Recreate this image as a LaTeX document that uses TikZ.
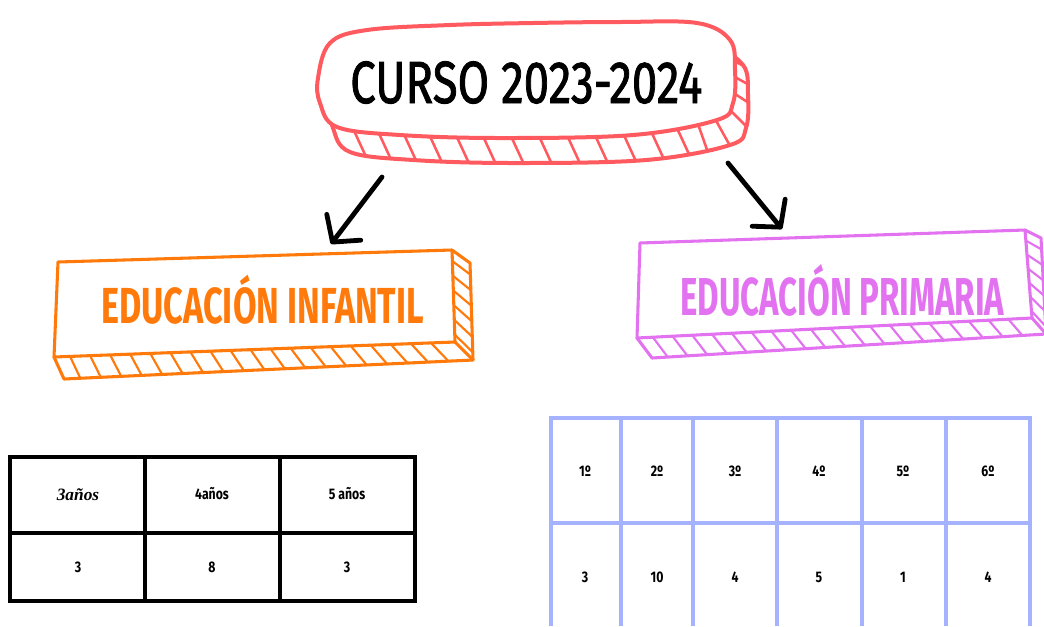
\documentclass[tikz,border=0pt]{standalone}
\usepackage{fontspec}
\usetikzlibrary{arrows.meta,calc}
\newfontfamily\fira{Fira Sans}
\newfontfamily\firamed{Fira Sans}[FakeBold=1.6]
\newfontfamily\serifit{Liberation Serif}
\definecolor{cred}{HTML}{FF5A5F}
\definecolor{corange}{HTML}{FF7A0A}
\definecolor{cpink}{HTML}{E272F0}
\definecolor{cblue}{HTML}{A4B2FF}
\begin{document}
\begin{tikzpicture}[x=0.75pt,y=-0.75pt,
  redline/.style={draw=cred,line width=3pt,line join=round,line cap=round},
  redhatch/.style={draw=cred,line width=1.9pt,line cap=round},
  obox/.style={draw=corange,line width=2.3pt,line join=round,line cap=round},
  ohatch/.style={draw=corange,line width=1.6pt,line cap=round},
  pbox/.style={draw=cpink,line width=2.3pt,line join=round,line cap=round},
  phatch/.style={draw=cpink,line width=1.6pt,line cap=round},
  arr/.style={line width=3.6pt,line cap=round,-{Straight Barb[length=14pt,width=32pt,round]}},
  title/.style={anchor=base west,inner sep=0pt},
  cell/.style={inner sep=0pt,font=\fira\bfseries\fontsize{11.5}{13}\selectfont},
  blacktab/.style={draw=black,line width=2.3pt},
  bluetab/.style={draw=cblue,line width=2.4pt}]
\useasboundingbox (0,0) rectangle (1044,626);
\fill[white] (0,0) rectangle (1044,626);

% ---------- CURSO blob ----------
\def\blob{plot[smooth cycle,tension=0.6] coordinates {(318,78) (330,43) (367,30) (450,25) (533,23) (620,22) (697,23) (730,40) (735,70) (733,103) (717,120) (633,135) (500,138) (400,135) (337,127) (320,103)}}
\fill[white,shift={(13,25)}] \blob;
\begin{scope}
  \clip[shift={(13,25)}] \blob;
  \foreach \px/\py in {350/122,376/127,402/130,428/132,455/133,482/134,510/134,538/134,566/133,594/133,622/131,650/129,676/126}
    \draw[redhatch] (\px,\py) -- ++(24,52);
  \foreach \px/\py/\dx/\dy in {728/45/2/1, 732/60/2/1, 733/76/2/1.1, 732/92/2/1.3, 726/106/1.6/1.6, 714/117/1/1.8, 698/124/0.7/2}
    \draw[redhatch] (\px,\py) -- ++({30*\dx},{30*\dy});
\end{scope}
\draw[redline,shift={(13,25)}] \blob;
\filldraw[redline,fill=white] \blob;
\node[title,font=\firamed\fontsize{44.6}{50}\selectfont] (curso) at (350,103) {\resizebox{264pt}{\height}{CURSO 2023-2024}};

% ---------- arrows ----------
\coordinate (a1s) at (382,177);
\coordinate (a1e) at (331,244);
\coordinate (a2s) at (728,163);
\coordinate (a2e) at (782,229);
\draw[arr] (a1s) -- (a1e);
\draw[arr] (a2s) -- (a2e);

% ---------- EDUCACION INFANTIL box ----------
\coordinate (iFTL) at (58,262);
\coordinate (iFTR) at (452,250);
\coordinate (iFBR) at (455,342);
\coordinate (iFBL) at (54,357);
\coordinate (iBTR) at (470,263);
\coordinate (iBBR) at (473,360);
\coordinate (iBBL) at (64,379);
\foreach \t in {0.04,0.09,...,0.97}
  \draw[ohatch] ($(iFBL)!\t!(iFBR)$) -- ($(iBBL)!\t!(iBBR)$);
\foreach \t in {0.12,0.28,0.44,0.60,0.76,0.92}
  \draw[ohatch] ($(iFTR)!\t!(iFBR)$) -- ($(iBTR)!\t!(iBBR)$);
\draw[obox] (iFTR) -- (iBTR) -- (iBBR) -- (iBBL) -- (iFBL);
\draw[obox] (iFBR) -- (iBBR);
\draw[obox] (iFTL) -- (iFTR) -- (iFBR) -- (iFBL) -- cycle;
\node[title,text=corange,font=\fira\bfseries\fontsize{38}{42}\selectfont] (infantil) at (101,323) {\resizebox{242pt}{\height}{EDUCACIÓN INFANTIL}};

% ---------- EDUCACION PRIMARIA box ----------
\coordinate (pFTL) at (640,243);
\coordinate (pFTR) at (1025,230);
\coordinate (pFBR) at (1032,318);
\coordinate (pFBL) at (637,338);
\coordinate (pBTR) at (1041,238);
\coordinate (pBBR) at (1046,334);
\coordinate (pBBL) at (652,358);
\foreach \t in {0.04,0.09,...,0.97}
  \draw[phatch] ($(pFBL)!\t!(pFBR)$) -- ($(pBBL)!\t!(pBBR)$);
\foreach \t in {0.12,0.28,0.44,0.60,0.76,0.92}
  \draw[phatch] ($(pFTR)!\t!(pFBR)$) -- ($(pBTR)!\t!(pBBR)$);
\draw[pbox] (pFTR) -- (pBTR) -- (pBBR) -- (pBBL) -- (pFBL);
\draw[pbox] (pFBR) -- (pBBR);
\draw[pbox] (pFTL) -- (pFTR) -- (pFBR) -- (pFBL) -- cycle;
\node[title,text=cpink,font=\fira\bfseries\fontsize{40}{44}\selectfont] (primaria) at (680,315) {\resizebox{243pt}{\height}{EDUCACIÓN PRIMARIA}};

% ---------- left table ----------
\draw[blacktab] (10,457) rectangle (415,601);
\draw[blacktab] (10,533) -- (415,533);
\draw[blacktab] (145,457) -- (145,601);
\draw[blacktab] (280,457) -- (280,601);
\node[inner sep=0pt,font=\serifit\bfseries\itshape\fontsize{13}{14}\selectfont] (c1) at (78,495) {3años};
\node[cell] (c2) at (212,494) {\scalebox{0.8}[1]{4años}};
\node[cell] (c3) at (347,494) {\scalebox{0.8}[1]{5 años}};
\node[cell] (d1) at (78,567) {\scalebox{0.8}[1]{3}};
\node[cell] (d2) at (212,567) {\scalebox{0.8}[1]{8}};
\node[cell] (d3) at (347,567) {\scalebox{0.8}[1]{3}};

% ---------- right table ----------
\draw[bluetab] (551,626) -- (551,418) -- (1030,418) -- (1030,626);
\draw[bluetab] (551,523) -- (1030,523);
\foreach \x in {621,693,777,862,946}
  \draw[bluetab] (\x,418) -- (\x,626);
\foreach \n/\x/\v in {1/585/3,2/657/10,3/735/4,4/819/5,5/903/1,6/988/4}{
  \node[cell] (h\n) at (\x,471) {\scalebox{0.8}[1]{\n º}};
  \node[cell] (v\n) at (\x,577) {\scalebox{0.8}[1]{\v}};
}
\end{tikzpicture}
\end{document}
